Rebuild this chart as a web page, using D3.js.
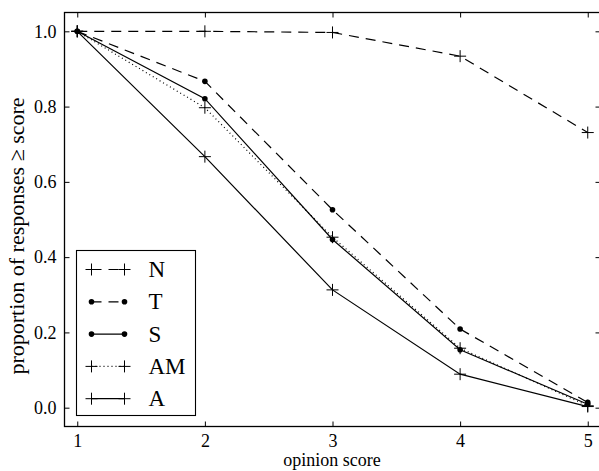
<!DOCTYPE html>
<html>
<head>
<meta charset="utf-8">
<script src="https://cdn.jsdelivr.net/npm/d3@7"></script>
</head>
<body style="margin:0;background:#fff">
<svg id="main_svg" width="599" height="471"></svg>
<script>
// opinion scores on the x axis
const scores = [1, 2, 3, 4, 5];
// proportion of responses >= score, one list per condition
const seriesN = [1.0, 1.0, 0.997, 0.934, 0.731];
const seriesT = [1.0, 0.867, 0.526, 0.209, 0.014];
const seriesS = [1.0, 0.821, 0.447, 0.154, 0.009];
const seriesAM = [1.0, 0.797, 0.453, 0.158, 0.005];
const seriesA = [1.0, 0.667, 0.313, 0.089, 0.003];
const yTicks = [0.0, 0.2, 0.4, 0.6, 0.8, 1.0];

const series = [
  { name: 'N', values: seriesN, dash: '10,7', marker: 'plus' },
  { name: 'T', values: seriesT, dash: '10,7', marker: 'dot' },
  { name: 'S', values: seriesS, dash: null, marker: 'dot' },
  { name: 'AM', values: seriesAM, dash: '1,3', marker: 'plus' },
  { name: 'A', values: seriesA, dash: null, marker: 'plus' },
];

const FONT = '"Liberation Serif"';
const svg = d3.select('#main_svg');
const plot = { left: 64.5, right: 600.5, top: 12.5, bottom: 426.5 };

const x = d3.scaleLinear().domain([0.9, 5.1]).range([plot.left, plot.right]);
const y = d3.scaleLinear().domain([-0.05, 1.05]).range([plot.bottom, plot.top]);

// draw a marker at a point
function drawMarker(g, kind, px, py) {
  if (kind === 'plus') {
    g.append('path')
      .attr('d', 'M' + (px - 6) + ',' + py + 'H' + (px + 6) + 'M' + px + ',' + (py - 6) + 'V' + (py + 6))
      .attr('stroke', '#000')
      .attr('stroke-width', 1)
      .attr('fill', 'none');
  } else {
    g.append('circle')
      .attr('cx', px)
      .attr('cy', py)
      .attr('r', 2.8)
      .attr('fill', '#000');
  }
}

// series lines
const line = d3.line()
  .x(function(d, i) { return x(scores[i]); })
  .y(function(d) { return y(d); });

series.forEach(function(s) {
  const g = svg.append('g');
  g.append('path')
    .datum(s.values)
    .attr('d', line)
    .attr('fill', 'none')
    .attr('stroke', '#000')
    .attr('stroke-width', 1.2)
    .attr('stroke-dasharray', s.dash);
  s.values.forEach(function(v, i) {
    drawMarker(g, s.marker, x(scores[i]), y(v));
  });
});

// frame
svg.append('rect')
  .attr('x', plot.left)
  .attr('y', plot.top)
  .attr('width', plot.right - plot.left)
  .attr('height', plot.bottom - plot.top)
  .attr('fill', 'none')
  .attr('stroke', '#000')
  .attr('stroke-width', 1.3);

// axes with inward ticks
const xAxis = d3.axisBottom(x).tickValues(scores).tickFormat(d3.format('d')).tickSizeInner(-5).tickSizeOuter(0).tickPadding(8);
svg.append('g')
  .attr('transform', 'translate(0,' + plot.bottom + ')')
  .call(xAxis)
  .call(function(g) { g.select('.domain').remove(); })
  .selectAll('text')
  .style('font-family', FONT)
  .style('font-size', '18px');

svg.append('g')
  .attr('transform', 'translate(0,' + plot.top + ')')
  .call(d3.axisTop(x).tickValues(scores).tickSizeInner(-5).tickSizeOuter(0).tickFormat(''))
  .call(function(g) { g.select('.domain').remove(); });

const yAxis = d3.axisLeft(y).tickValues(yTicks).tickFormat(d3.format('.1f')).tickSizeInner(-5).tickSizeOuter(0).tickPadding(8);
svg.append('g')
  .attr('transform', 'translate(' + plot.left + ',0)')
  .call(yAxis)
  .call(function(g) { g.select('.domain').remove(); })
  .selectAll('text')
  .style('font-family', FONT)
  .style('font-size', '18px');

svg.append('g')
  .attr('transform', 'translate(' + plot.right + ',0)')
  .call(d3.axisRight(y).tickValues(yTicks).tickSizeInner(-5).tickSizeOuter(0).tickFormat(''))
  .call(function(g) { g.select('.domain').remove(); });

svg.selectAll('.tick line').attr('stroke', '#000');

// axis titles
svg.append('text')
  .attr('x', 332)
  .attr('y', 466)
  .attr('text-anchor', 'middle')
  .style('font-family', FONT)
  .style('font-size', '18px')
  .text('opinion score');

svg.append('text')
  .attr('transform', 'translate(23.5,236) rotate(-90)')
  .attr('text-anchor', 'middle')
  .style('font-family', FONT)
  .style('font-size', '22px')
  .text('proportion of responses \u2265 score');

// legend
const legend = svg.append('g').attr('transform', 'translate(76.5,250.5)');
legend.append('rect')
  .attr('width', 119)
  .attr('height', 165)
  .attr('fill', '#fff')
  .attr('stroke', '#000')
  .attr('stroke-width', 1.1);

series.forEach(function(s, i) {
  const ly = 19 + i * 32.3;
  const g = legend.append('g');
  g.append('line')
    .attr('x1', 15)
    .attr('x2', 48)
    .attr('y1', ly)
    .attr('y2', ly)
    .attr('stroke', '#000')
    .attr('stroke-width', 1.2)
    .attr('stroke-dasharray', s.dash);
  drawMarker(g, s.marker, 15, ly);
  drawMarker(g, s.marker, 48, ly);
  g.append('text')
    .attr('x', 72)
    .attr('y', ly + 7.5)
    .style('font-family', FONT)
    .style('font-size', '23px')
    .text(s.name);
});
</script>
</body>
</html>
